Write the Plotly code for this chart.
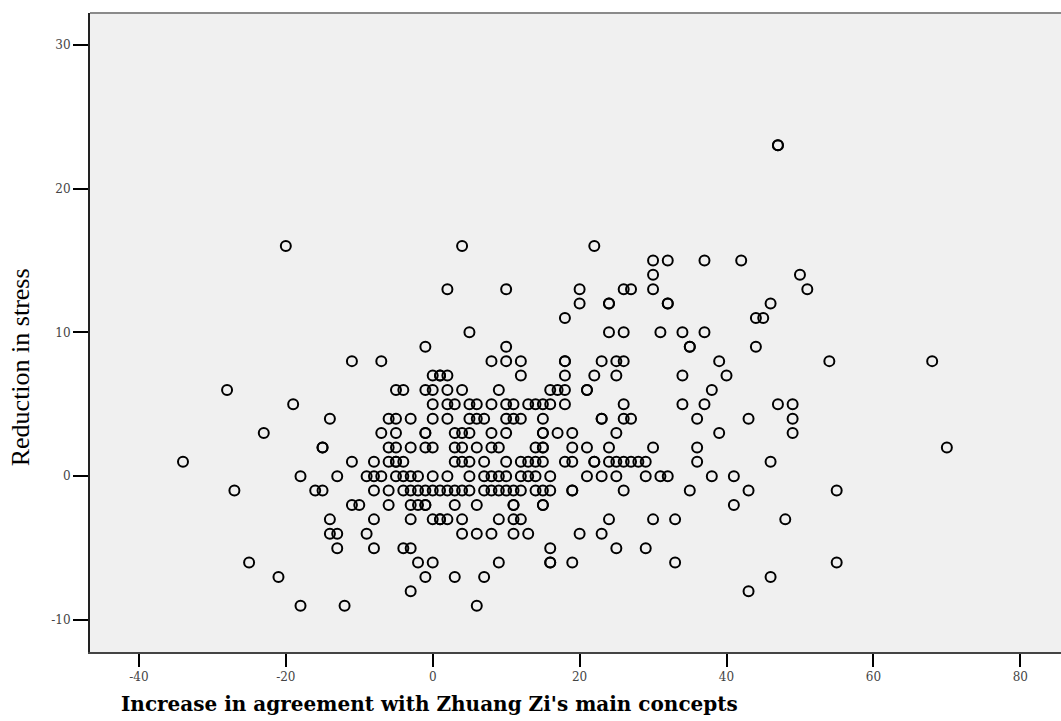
import plotly.graph_objects as go

# Reduction in stress (y) levels and the agreement-increase values (x) observed at each level
stress_levels = [23, 16, 15, 14, 13, 12, 11, 10, 9, 8, 7, 6, 5, 4, 3, 2, 1, 0,
                 -1, -2, -3, -4, -5, -6, -7, -8, -9]

agree_23 = [47, 47]
agree_16 = [-20, 4, 22]
agree_15 = [30, 32, 37, 42]
agree_14 = [30, 50]
agree_13 = [2, 10, 20, 26, 27, 30, 51]
agree_12 = [20, 24, 24, 32, 32, 46]
agree_11 = [18, 44, 45]
agree_10 = [5, 24, 26, 31, 34, 37]
agree_9 = [-1, 10, 35, 35, 44]
agree_8 = [-11, -7, 8, 10, 12, 18, 18, 23, 25, 26, 39, 54, 68]
agree_7 = [0, 1, 1, 2, 12, 18, 22, 25, 34, 40]
agree_6 = [-28, -5, -4, -1, 0, 2, 4, 9, 16, 17, 18, 21, 21, 38]
agree_5 = [-19, 0, 2, 3, 5, 6, 8, 10, 11, 13, 14, 15, 16, 18, 26, 34, 37, 47, 49]
agree_4 = [-14, -6, -5, -3, 0, 2, 5, 6, 7, 10, 11, 12, 15, 23, 23, 26, 27, 36, 43, 49]
agree_3 = [-23, -7, -5, -1, -1, 3, 4, 5, 8, 10, 15, 15, 17, 19, 25, 39, 49]
agree_2 = [-15, -15, -6, -5, -3, -1, 0, 3, 4, 6, 8, 9, 14, 15, 15, 19, 21, 24, 30, 36, 70]
agree_1 = [-34, -11, -8, -6, -5, -5, -4, 3, 4, 5, 7, 10, 12, 13, 14, 15, 18, 19,
           22, 22, 24, 25, 26, 27, 28, 29, 36, 46]
agree_0 = [-18, -13, -9, -8, -7, -5, -4, -3, -2, 0, 2, 5, 7, 8, 9, 10, 12, 13, 14,
           16, 21, 23, 25, 29, 31, 32, 38, 41]
agree_m1 = [-27, -16, -15, -8, -6, -4, -3, -2, -1, 0, 1, 2, 3, 4, 5, 7, 8, 9, 10,
            11, 12, 14, 15, 16, 19, 19, 26, 35, 43, 55]
agree_m2 = [-11, -10, -6, -3, -2, -1, -1, 3, 6, 11, 11, 15, 15, 41]
agree_m3 = [-14, -8, -3, 0, 1, 1, 2, 4, 9, 11, 12, 24, 30, 33, 48]
agree_m4 = [-14, -13, -9, 4, 6, 8, 11, 13, 20, 23]
agree_m5 = [-13, -8, -4, -3, 16, 25, 29]
agree_m6 = [-25, -2, 0, 9, 16, 16, 19, 33, 55]
agree_m7 = [-21, -1, 3, 7, 46]
agree_m8 = [-3, 43]
agree_m9 = [-18, -12, 6]

agree_rows = [agree_23, agree_16, agree_15, agree_14, agree_13, agree_12, agree_11,
              agree_10, agree_9, agree_8, agree_7, agree_6, agree_5, agree_4, agree_3,
              agree_2, agree_1, agree_0, agree_m1, agree_m2, agree_m3, agree_m4,
              agree_m5, agree_m6, agree_m7, agree_m8, agree_m9]

x_ticks = [-40, -20, 0, 20, 40, 60, 80]
x_tick_labels = ["-40", "-20", "0", "20", "40", "60", "80"]
y_ticks = [-10, 0, 10, 20, 30]
y_tick_labels = ["-10", "0", "10", "20", "30"]

xs, ys = [], []
for lvl, row in zip(stress_levels, agree_rows):
    for v in row:
        xs.append(v)
        ys.append(lvl)

fig = go.Figure()
fig.add_trace(go.Scatter(
    x=xs, y=ys, mode="markers",
    marker=dict(symbol="circle-open", size=10, color="black",
                line=dict(color="black", width=2)),
    hoverinfo="x+y", showlegend=False,
))

tick_font = dict(family="DejaVu Serif", size=12, color="#444444")

fig.update_layout(
    width=1061, height=721,
    margin=dict(l=90, r=0, t=13, b=69),
    paper_bgcolor="white",
    plot_bgcolor="#F0F0F0",
    xaxis=dict(range=[-46.66, 85.54], tickvals=x_ticks, ticktext=x_tick_labels,
               ticks="outside", ticklen=13, tickwidth=2, tickcolor="black",
               showgrid=False, zeroline=False, showline=True,
               linecolor="#444444", linewidth=2, tickfont=tick_font),
    yaxis=dict(range=[-12.22, 32.2], tickvals=y_ticks, ticktext=y_tick_labels,
               ticks="outside", ticklen=15, tickwidth=2, tickcolor="black",
               showgrid=False, zeroline=False, showline=True,
               linecolor="#222222", linewidth=2, tickfont=tick_font),
    shapes=[dict(type="line", xref="paper", yref="paper", x0=0, x1=1, y0=1, y1=1,
                 line=dict(color="#8a8a8a", width=2))],
    annotations=[
        dict(text="Reduction in stress", xref="paper", yref="paper",
             x=-0.072, y=0.4457, xanchor="center", yanchor="middle",
             textangle=-90, showarrow=False,
             font=dict(family="Liberation Serif", size=26, color="black")),
        dict(text="<b>Increase in agreement with Zhuang Zi's main concepts</b>",
             xref="paper", yref="paper", x=0.350, y=-0.082,
             xanchor="center", yanchor="middle", showarrow=False,
             font=dict(family="DejaVu Serif", size=20, color="black")),
    ],
)

fig.write_html("out.html")
